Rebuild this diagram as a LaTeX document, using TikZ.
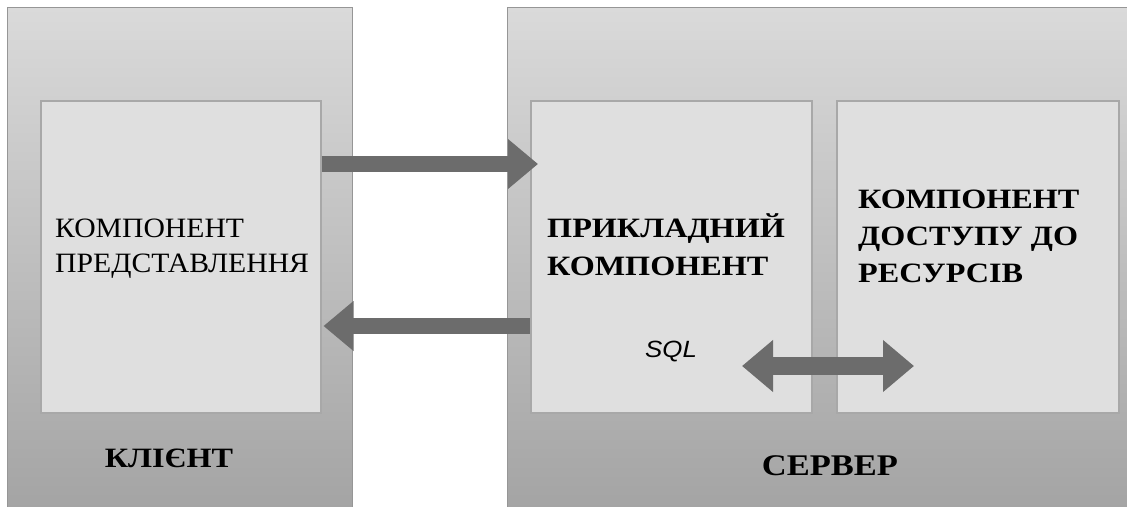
\documentclass[tikz,border=0pt]{standalone}
\usepackage{fontspec}
\setmainfont{Liberation Serif}
\newfontfamily\regwide[FakeStretch=1.06]{Liberation Serif}
\newfontfamily\boldwide[FakeStretch=1.15]{Liberation Serif}
\newfontfamily\sqlfont[FakeStretch=1.1]{Liberation Sans}
\usetikzlibrary{arrows.meta,positioning}
\definecolor{outertop}{RGB}{218,218,218}
\definecolor{outermid}{RGB}{196,196,196}
\definecolor{outerbot}{RGB}{162,162,162}
\definecolor{innerfill}{RGB}{223,223,223}
\definecolor{innerline}{RGB}{168,168,168}
\definecolor{outerline}{RGB}{150,150,150}
\definecolor{arrowfill}{RGB}{108,108,108}
\tikzset{
  outerbox/.style={draw=outerline, line width=0.8pt, top color=outertop, middle color=outermid, bottom color=outerbot, anchor=north west, inner sep=0pt},
  innerbox/.style={draw=innerline, line width=1.5pt, fill=innerfill, anchor=north west, inner sep=0pt, minimum width=280pt, minimum height=312pt},
  bigarrow/.style={draw=arrowfill, line width=16pt, -{Triangle[length=30pt,width=48pt]}},
  dblarrow/.style={draw=arrowfill, line width=18pt, {Triangle[length=31pt,width=50pt]}-{Triangle[length=31pt,width=50pt]}},
  normtext/.style={anchor=base west, align=left, inner sep=0pt, font=\regwide\fontsize{28}{35}\selectfont},
  boldtext/.style={anchor=base west, align=left, inner sep=0pt, font=\boldwide\bfseries\fontsize{28}{38}\selectfont},
  labeltext/.style={anchor=base, inner sep=0pt, font=\boldwide\bfseries\fontsize{28}{32}\selectfont},
}
\begin{document}
\begin{tikzpicture}[x=1pt,y=-1pt]
\useasboundingbox (0,0) rectangle (1127,506);
\node[outerbox, minimum width=345pt, minimum height=520pt] (client) at (7,7) {};
\node[outerbox, minimum width=640pt, minimum height=520pt] (server) at (507,7) {};
\node[innerbox, minimum width=280pt] (pres) at (40,100) {};
\node[innerbox, minimum width=281pt] (app) at (530,100) {};
\node[innerbox, minimum width=282pt] (res) at (836,100) {};
\node[normtext] (prestxt) at (55,272) {КОМПОНЕНТ\\ПРЕДСТАВЛЕННЯ};
\node[boldtext] (apptxt) at (547,275) {ПРИКЛАДНИЙ\\КОМПОНЕНТ};
\node[boldtext, font=\boldwide\bfseries\fontsize{28}{37}\selectfont] (restxt) at (858,282) {КОМПОНЕНТ\\ДОСТУПУ ДО\\РЕСУРСІВ};
\node[anchor=base west, inner sep=0pt, font=\sqlfont\itshape\fontsize{23.5}{26}\selectfont] (sql) at (645,357) {SQL};
\node[labeltext] (cltxt) at (169,467) {КЛІЄНТ};
\node[labeltext, font=\boldwide\bfseries\fontsize{30}{32}\selectfont] (srvtxt) at (830,475) {СЕРВЕР};
\coordinate (dl) at (742,366);
\coordinate (dr) at (914,366);
\draw[bigarrow] (pres.east |- 0,164) -- ([xshift=8pt]app.west |- 0,164);
\draw[bigarrow] (app.west |- 0,326) -- ([xshift=2pt]pres.east |- 0,326);
\draw[dblarrow] (dl) -- (dr);
\end{tikzpicture}
\end{document}
